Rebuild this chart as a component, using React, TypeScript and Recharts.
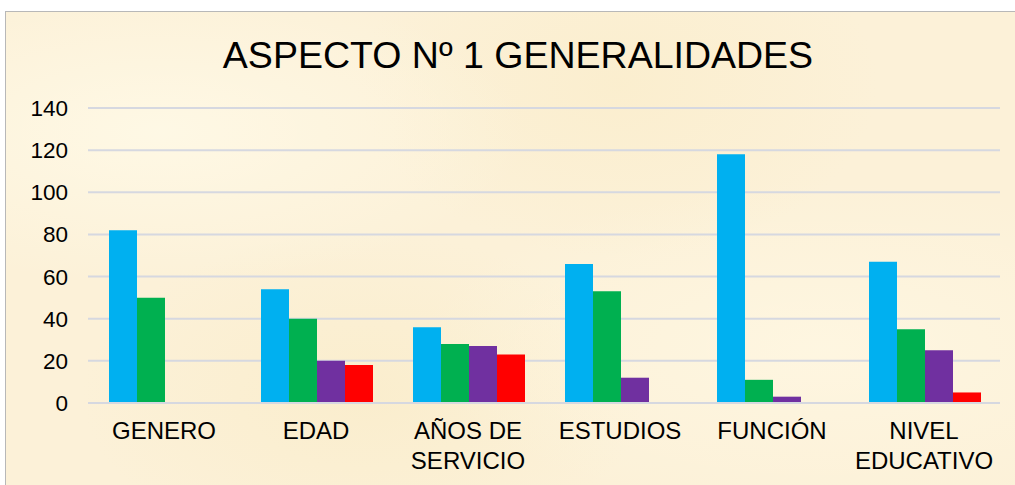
import React from "react";
import { BarChart, Bar, XAxis, YAxis, CartesianGrid } from "recharts";

const categories = [
  "GENERO",
  "EDAD",
  "AÑOS DE\nSERVICIO",
  "ESTUDIOS",
  "FUNCIÓN",
  "NIVEL\nEDUCATIVO",
];
const serie1 = [82, 54, 36, 66, 118, 67];
const serie2 = [50, 40, 28, 53, 11, 35];
const serie3 = [0, 20, 27, 12, 3, 25];
const serie4 = [0, 18, 23, 0, 0, 5];
const yTicks = [0, 20, 40, 60, 80, 100, 120, 140];

const data = categories.map((name, i) => ({
  name,
  s1: serie1[i],
  s2: serie2[i],
  s3: serie3[i],
  s4: serie4[i],
}));

const FONT = '"Liberation Sans", Arial, sans-serif';

function CategoryTick(props: any) {
  const { x, y, payload } = props;
  const lines = String(payload.value).split("\n");
  return (
    <text
      x={x}
      y={y}
      textAnchor="middle"
      fontFamily={FONT}
      fontSize={24}
      fill="#000"
    >
      {lines.map((l, i) => (
        <tspan key={i} x={x} dy={i === 0 ? 28 : 30}>
          {l}
        </tspan>
      ))}
    </text>
  );
}

export default function App() {
  return (
    <div
      style={{
        position: "absolute",
        left: 0,
        top: 0,
        width: 1015,
        height: 485,
        background: "#fff",
        overflow: "hidden",
      }}
    >
      {/* parchment frame */}
      <div
        style={{
          position: "absolute",
          left: 5,
          top: 11,
          width: 1020,
          height: 480,
          borderLeft: "1.5px solid #b8b8b8",
          borderTop: "1.5px solid #b8b8b8",
          background:
            "radial-gradient(ellipse at 15% 25%, rgba(255,250,232,0.8), rgba(255,250,232,0) 30%)," +
            "radial-gradient(ellipse at 60% 15%, rgba(250,236,200,0.6), rgba(250,236,200,0) 30%)," +
            "radial-gradient(ellipse at 80% 70%, rgba(255,248,228,0.7), rgba(255,248,228,0) 35%)," +
            "radial-gradient(ellipse at 35% 80%, rgba(249,235,198,0.6), rgba(249,235,198,0) 30%)," +
            "#fcf1d8",
        }}
      />
      <svg
        width={1015}
        height={485}
        style={{ position: "absolute", left: 0, top: 0 }}
      >
        <text
          x={518}
          y={68}
          textAnchor="middle"
          fontFamily={FONT}
          fontSize={37.5}
          fill="#000"
        >
          ASPECTO Nº 1 GENERALIDADES
        </text>
      </svg>
      <div style={{ position: "absolute", left: 0, top: 0 }}>
        <BarChart
          width={1015}
          height={485}
          data={data}
          margin={{ top: 108, right: 15, left: 28, bottom: 12 }}
          barGap={0}
          barCategoryGap={21}
        >
          <CartesianGrid
            vertical={false}
            stroke="#d6d8e0"
            strokeWidth={2}
          />
          <XAxis
            dataKey="name"
            interval={0}
            height={70}
            axisLine={{ stroke: "#d6d8e0", strokeWidth: 2 }}
            tickLine={false}
            tick={<CategoryTick />}
          />
          <YAxis
            width={60}
            domain={[0, 140]}
            ticks={yTicks}
            axisLine={false}
            tickLine={false}
            tickMargin={14}
            tick={{ fill: "#000", fontSize: 22.5, fontFamily: FONT }}
          />
          <Bar dataKey="s1" fill="#00b0f0" isAnimationActive={false} />
          <Bar dataKey="s2" fill="#00b050" isAnimationActive={false} />
          <Bar dataKey="s3" fill="#7030a0" isAnimationActive={false} />
          <Bar dataKey="s4" fill="#ff0000" isAnimationActive={false} />
        </BarChart>
      </div>
    </div>
  );
}
